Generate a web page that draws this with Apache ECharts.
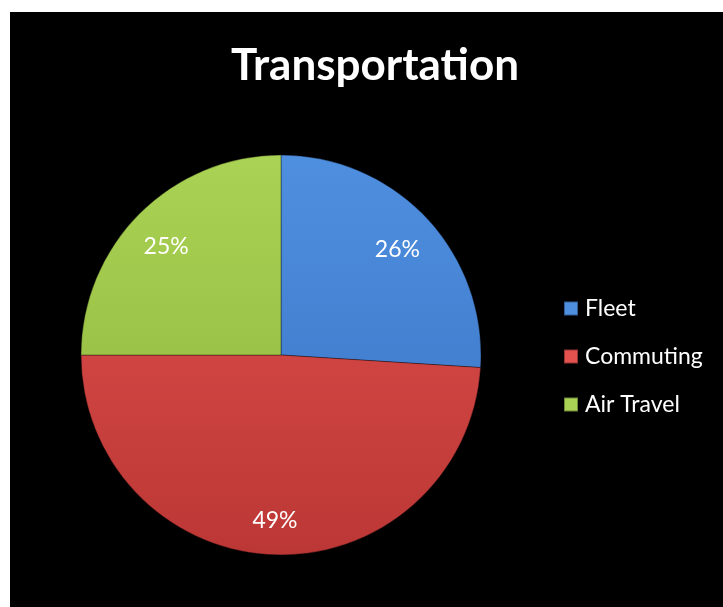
<!DOCTYPE html>
<html>
<head>
<meta charset="utf-8">
<script src="https://cdn.jsdelivr.net/npm/echarts@6/dist/echarts.min.js"></script>
<style>
  html, body { margin: 0; padding: 0; background: #ffffff; }
  #chart { position: absolute; left: 10px; top: 12px; width: 713px; height: 595px; background: #000000; }
</style>
</head>
<body>
<div id="chart"></div>
<script>
// Share of transportation emissions by source
const categories = ['Fleet', 'Commuting', 'Air Travel'];
const shares = [26, 49, 25];

// Vertical shading per slice: lighter at the top, deeper toward the bottom of the disc
const sliceShades = [
  ['#4f8fe0', '#3a72c2'],
  ['#e4524f', '#bb3735'],
  ['#aad254', '#8db43a']
];

const PIE_CENTER = [271, 343];
const PIE_RADIUS = 200;

function shade(i) {
  return {
    type: 'linear', global: true,
    x: 0, y: PIE_CENTER[1] - PIE_RADIUS, x2: 0, y2: PIE_CENTER[1] + PIE_RADIUS,
    colorStops: [
      { offset: 0, color: sliceShades[i][0] },
      { offset: 1, color: sliceShades[i][1] }
    ]
  };
}

const sliceData = categories.map((name, i) => ({
  name, value: shares[i],
  itemStyle: { color: shade(i) }
}));

const labelData = categories.map((name, i) => ({ name, value: shares[i] }));

const chart = echarts.init(document.getElementById('chart'));
chart.setOption({
  backgroundColor: '#000000',
  animation: false,
  title: {
    text: 'Transportation',
    left: 360, top: 27, textAlign: 'center',
    textStyle: { color: '#ffffff', fontFamily: 'Lato', fontWeight: 'bold', fontSize: 44 }
  },
  legend: {
    orient: 'vertical',
    left: 548, top: 280,
    itemWidth: 14, itemHeight: 14, itemGap: 25,
    icon: 'rect',
    data: categories,
    textStyle: { color: '#ffffff', fontFamily: 'Lato', fontSize: 23, padding: [0, 0, 0, 2] }
  },
  series: [
    {
      name: 'Transportation',
      type: 'pie',
      center: PIE_CENTER,
      radius: PIE_RADIUS,
      startAngle: 90,
      clockwise: true,
      silent: true,
      label: { show: false },
      labelLine: { show: false },
      itemStyle: { borderColor: 'rgba(0,0,0,0.35)', borderWidth: 1 },
      data: sliceData
    },
    {
      // percentage labels placed at about four fifths of the radius
      name: 'labels',
      type: 'pie',
      center: PIE_CENTER,
      radius: [116, PIE_RADIUS],
      startAngle: 90,
      clockwise: true,
      silent: true,
      legendHoverLink: false,
      itemStyle: { color: 'rgba(0,0,0,0)', borderWidth: 0 },
      label: {
        show: true, position: 'inside',
        formatter: '{c}%', offset: [-1, 5],
        color: '#ffffff', fontFamily: 'Lato', fontSize: 23
      },
      labelLine: { show: false },
      data: labelData
    }
  ]
});
</script>
</body>
</html>
